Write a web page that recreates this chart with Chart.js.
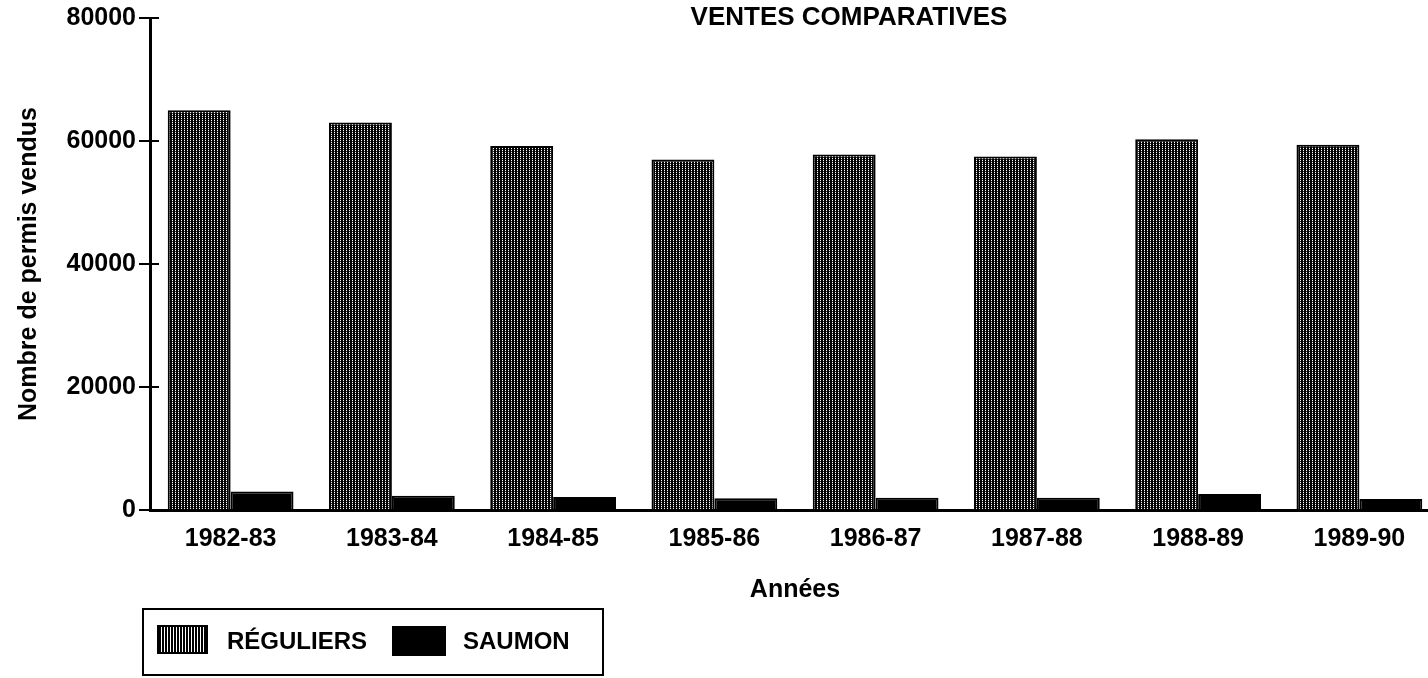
<!DOCTYPE html>
<html lang="fr">
<head>
<meta charset="utf-8">
<title>Ventes comparatives</title>
<script src="https://cdn.jsdelivr.net/npm/chart.js@4.4.0/dist/chart.umd.min.js"></script>
<style>
  html, body { margin: 0; padding: 0; background: #fff; overflow: hidden; }
  #wrap { position: relative; width: 1428px; height: 678px; overflow: hidden; }
  #chart { position: absolute; left: 0; top: 0; }
  #titre {
    position: absolute; left: 849px; top: 1px; transform: translateX(-50%);
    font: bold 26px "Liberation Sans", Arial, sans-serif; color: #000; white-space: nowrap;
  }
  #legende {
    position: absolute; left: 142px; top: 608px; width: 458px; height: 64px;
    border: 2px solid #000; font: bold 24px "Liberation Sans", Arial, sans-serif; color: #000;
  }
  .swatch { position: absolute; border: 2px solid #000; box-sizing: border-box; }
  .lbl { position: absolute; white-space: nowrap; }
</style>
</head>
<body>
<div id="wrap">
  <canvas id="chart"></canvas>
  <div id="titre">VENTES COMPARATIVES</div>
  <div id="legende">
    <div class="swatch" style="left:13px;top:15px;width:51px;height:29px;background:repeating-linear-gradient(90deg,#000 0 2px,#fff 2px 3px);"></div>
    <div class="lbl" style="left:83px;top:17px;">RÉGULIERS</div>
    <div class="swatch" style="left:248px;top:16px;width:54px;height:30px;background:#000;"></div>
    <div class="lbl" style="left:319px;top:17px;">SAUMON</div>
  </div>
</div>
<script>
// Données
const annees = ["1982-83", "1983-84", "1984-85", "1985-86", "1986-87", "1987-88", "1988-89", "1989-90"];
const reguliers = [65000, 63000, 59200, 57000, 57800, 57500, 60300, 59400];
const saumon = [3000, 2300, 2100, 1900, 2000, 2000, 2600, 1800];
const yTicks = [0, 20000, 40000, 60000, 80000];

// Motif rayé (gris foncé) pour les permis réguliers
function makeStripes() {
  const c = document.createElement("canvas");
  c.width = 3;
  c.height = 4;
  const g = c.getContext("2d");
  g.fillStyle = "#fff";
  g.fillRect(0, 0, 3, 4);
  g.fillStyle = "#000";
  g.fillRect(0, 0, 1, 4);
  g.fillRect(2, 0, 1, 4);
  g.fillStyle = "#333";
  g.fillRect(1, 1, 1, 1);
  g.fillRect(1, 3, 1, 1);
  return g.createPattern(c, "repeat");
}

// Petits traits des graduations vers l'intérieur
const innerTicks = {
  id: "innerTicks",
  afterDraw(chart) {
    const y = chart.scales.y;
    const ctx = chart.ctx;
    ctx.save();
    ctx.strokeStyle = "#000";
    ctx.lineWidth = 2;
    yTicks.forEach((v) => {
      const py = y.getPixelForValue(v);
      ctx.beginPath();
      ctx.moveTo(chart.chartArea.left, py);
      ctx.lineTo(chart.chartArea.left + 9, py);
      ctx.stroke();
    });
    ctx.restore();
  },
};

const canvas = document.getElementById("chart");
canvas.width = 1440;
canvas.height = 678;
canvas.style.width = "1440px";
canvas.style.height = "678px";

const police = { family: "'Liberation Sans', Arial, sans-serif", weight: "bold" };

new Chart(canvas.getContext("2d"), {
  type: "bar",
  data: {
    labels: annees,
    datasets: [
      {
        label: "RÉGULIERS",
        data: reguliers,
        backgroundColor: makeStripes(),
        borderColor: "#000",
        borderWidth: 2,
      },
      {
        label: "SAUMON",
        data: saumon,
        backgroundColor: "#000",
        borderColor: "#000",
        borderWidth: 2,
      },
    ],
  },
  options: {
    responsive: false,
    animation: false,
    layout: { padding: { top: 15, bottom: 68, left: 0, right: 0 } },
    categoryPercentage: 0.78,
    barPercentage: 1.0,
    plugins: {
      legend: { display: false },
      title: { display: false },
      tooltip: { enabled: false },
    },
    scales: {
      x: {
        grid: { display: false, drawTicks: false },
        border: { display: true, color: "#000", width: 3 },
        ticks: { color: "#000", padding: 14, font: { ...police, size: 25 } },
        title: {
          display: true,
          text: "Années",
          color: "#000",
          font: { ...police, size: 25 },
          padding: { top: 0, bottom: 5 },
        },
        afterFit(scale) {
          scale.height = 100;
        },
      },
      y: {
        min: 0,
        max: 80000,
        afterBuildTicks(scale) {
          scale.ticks = yTicks.map((v) => ({ value: v }));
        },
        grid: {
          display: true,
          drawOnChartArea: false,
          drawTicks: true,
          tickLength: 11,
          color: "#000",
          lineWidth: 2,
        },
        border: { display: true, color: "#000", width: 3 },
        ticks: {
          color: "#000",
          padding: 3,
          font: { ...police, size: 25 },
          callback: (v) => String(v),
        },
        title: {
          display: true,
          text: "Nombre de permis vendus",
          color: "#000",
          font: { ...police, size: 25 },
          padding: { top: 14, bottom: 0 },
        },
        afterFit(scale) {
          scale.width = 150;
        },
      },
    },
  },
  plugins: [innerTicks],
});
</script>
</body>
</html>
